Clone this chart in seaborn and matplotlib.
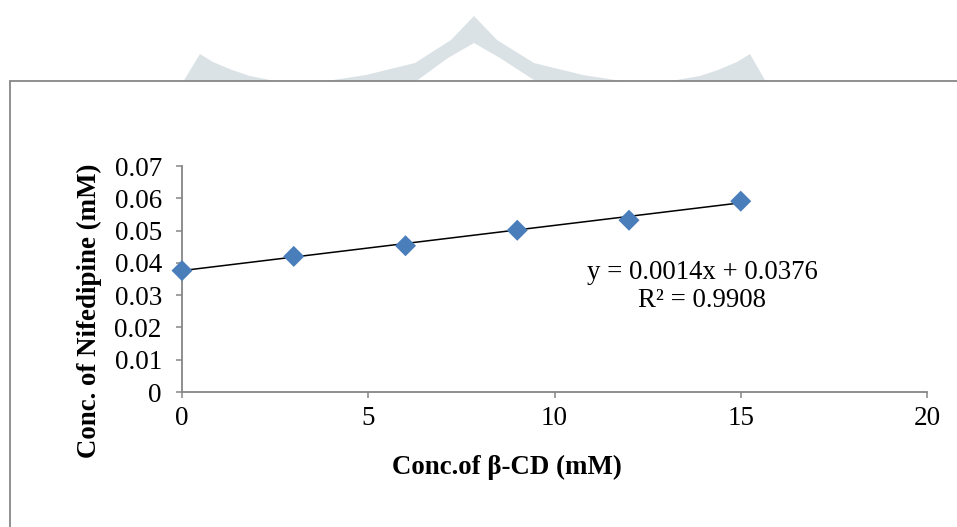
import matplotlib
matplotlib.use("Agg")
import matplotlib.pyplot as plt
from matplotlib.patches import Polygon, Rectangle
import numpy as np
import pandas as pd
import seaborn as sns

# Phase-solubility data: nifedipine vs beta-cyclodextrin
beta_cd_mM = [0, 3, 6, 9, 12, 15]
nifedipine_mM = [0.0376, 0.0420, 0.0453, 0.0501, 0.0532, 0.0591]

# Linear trendline as reported
slope = 0.0014
intercept = 0.0376
r_squared = 0.9908

x_ticks = [0, 5, 10, 15, 20]
y_ticks = [0, 0.01, 0.02, 0.03, 0.04, 0.05, 0.06, 0.07]
y_tick_labels = ["0", "0.01", "0.02", "0.03", "0.04", "0.05", "0.06", "0.07"]

sns.set_style("white")
plt.rcParams["font.family"] = ["Liberation Serif", "DejaVu Serif"]

W, H = 957, 527
fig = plt.figure(figsize=(W / 100, H / 100), dpi=100)
fig.patch.set_facecolor("white")


def px(points):
    return [(x / W, 1 - y / H) for x, y in points]


# Faint logo watermark above the chart frame
wm_color = "#dbe2e6"
left_piece = [(200, 54), (213, 62), (232, 70), (250, 76), (280, 82), (183, 82)]
right_piece = [(750, 54), (737, 62), (718, 70), (700, 76), (665, 82), (766, 82)]
arch = [(320, 82), (366, 75), (415, 63), (451, 40), (474, 16), (497, 40),
        (534, 63), (583, 75), (628, 82), (537, 82), (500, 58), (474, 43),
        (448, 58), (415, 82)]
for shape in (left_piece, right_piece, arch):
    fig.patches.append(Polygon(px(shape), closed=True, transform=fig.transFigure,
                               facecolor=wm_color, edgecolor="none", zorder=0))

# Chart frame (left and top edges visible)
fig.patches.append(Rectangle((9.5 / W, -0.1), 1.2, 1 - 81 / H + 0.1,
                             transform=fig.transFigure, facecolor="white",
                             edgecolor="#878787", linewidth=1.3, zorder=1))

ax = fig.add_axes([182 / W, 1 - 392 / H, (927 - 182) / W, (392 - 166) / H])
ax.set_zorder(2)
ax.patch.set_alpha(0)

df = pd.DataFrame({"beta_cd": beta_cd_mM, "nifedipine": nifedipine_mM})

# Trendline drawn from the reported equation
fit_x = np.array([min(beta_cd_mM), max(beta_cd_mM)])
sns.lineplot(x=fit_x, y=intercept + slope * fit_x, color="black", linewidth=1.1,
             ax=ax, zorder=3)
sns.scatterplot(data=df, x="beta_cd", y="nifedipine", marker="D", s=115,
                color="#4A7EBB", edgecolor="none", ax=ax, zorder=4, clip_on=False)

ax.set_xlim(0, 20)
ax.set_ylim(0, 0.07)
ax.set_xticks(x_ticks)
ax.set_xticklabels([str(t) for t in x_ticks])
ax.set_yticks(y_ticks)
ax.set_yticklabels(y_tick_labels)

for side in ("top", "right"):
    ax.spines[side].set_visible(False)
for side in ("left", "bottom"):
    ax.spines[side].set_color("#868686")
    ax.spines[side].set_linewidth(1.3)

ax.tick_params(axis="both", direction="out", length=4, width=1.1, color="#868686",
               labelsize=19.5, labelcolor="black")
ax.tick_params(axis="y", pad=10.5)
ax.tick_params(axis="x", pad=6)
ax.tick_params(axis="both", left=True, bottom=True)

ax.set_xlabel("Conc.of β-CD (mM)", fontsize=19.4, fontweight="bold", color="black")
ax.set_ylabel("Conc. of Nifedipine (mM)", fontsize=19.4, fontweight="bold", color="black")
ax.xaxis.label.set_va("center")
ax.yaxis.label.set_va("center")
ax.xaxis.set_label_coords((507 - 182) / 745, (392 - 467) / 226)
ax.yaxis.set_label_coords((89 - 182) / 745, (392 - 311) / 226)

ax.text(13.96, 0.03505, f"y = {slope}x + {intercept}", ha="center", va="baseline",
        fontsize=19.3, color="black")
ax.text(13.96, 0.02632, f"R² = {r_squared}", ha="center", va="baseline",
        fontsize=19.3, color="black")

fig.savefig("out.png", dpi=100, facecolor="white")
